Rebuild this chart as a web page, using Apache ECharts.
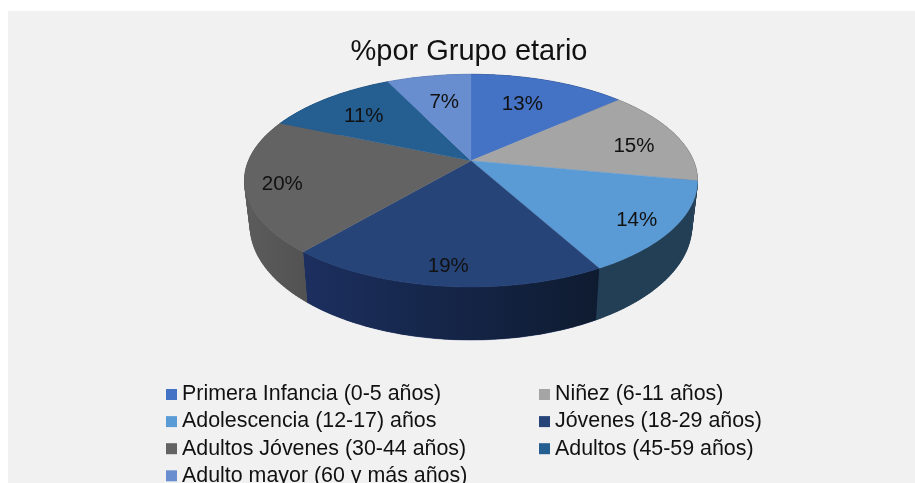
<!DOCTYPE html>
<html><head><meta charset="utf-8">
<style>html,body{margin:0;padding:0;background:#fff;overflow:hidden}#c{width:915px;height:483px}</style>
<script src="https://cdn.jsdelivr.net/npm/echarts@6/dist/echarts.min.js"></script>
</head><body><div id="c"></div>
<script>
const categories = ['Primera Infancia (0-5 años)','Niñez (6-11 años)','Adolescencia (12-17) años','Jóvenes (18-29 años)','Adultos Jóvenes (30-44 años)','Adultos (45-59 años)','Adulto mayor (60 y más años)'];
const values = [13.4,14.6,14.0,19.2,20.2,11.4,7.2];
const colors = ['#4472c4','#a5a5a5','#5b9bd5','#264478','#636363','#255e91','#698ed0'];
const sideLeft = ['#2a4475','#6a6a6a','#233f56','#1c2f5f','#5c5c5c','#1b466c','#4d699b'];
const sideRight = ['#2a4475','#6a6a6a','#233f56','#0e1b30','#525252','#1b466c','#4d699b'];
const labelRadius = [0.68,0.77,0.84,0.855,0.84,0.72,0.67];
const labelShift = [[-4,1],[4,6],[-1,4],[0,2],[0,3],[-1,2],[3,1]];
const titleText = '%por Grupo etario';

const total = values.reduce((a,b)=>a+b,0);
const K = 0.1876;
const topFace = {cx:471, cy:160.7, a:222.5, b:102.6};
const baseFace = {cx:471, cy:204.6, a:216.9, b:110};
function project(face, angleDeg, r){
  const t = angleDeg*Math.PI/180, u = r*Math.sin(t), v = -r*Math.cos(t), w = 1-K*v;
  return [face.cx+face.a*u/w, face.cy+face.b*v/w];
}
function arc(face, s, e){
  const n = Math.max(2, Math.ceil(Math.abs(e-s))), pts = [];
  for(let i=0;i<=n;i++) pts.push(project(face, s+(e-s)*i/n, 1));
  return pts;
}
function startOf(i){ return values.slice(0,i).reduce((a,b)=>a+b,0)/total*360; }

function makeSeries(i){
  return {
    type:'custom', name:categories[i], coordinateSystem:'none', silent:true,
    itemStyle:{color:colors[i]},
    data:[[values[i]]],
    renderItem:function(params, api){
      const s = startOf(i), e = s + api.value(0)/total*360;
      const topArc = arc(topFace, s, e), baseArc = arc(baseFace, s, e);
      const side = topArc.concat(baseArc.slice().reverse());
      const mid = (s+e)/2, lp = project(topFace, mid, labelRadius[i]);
      const fillers = [];
      for(let j=0;j<topArc.length-1;j++){
        fillers.push({type:'polygon', z2:0, shape:{points:[topArc[j],topArc[j+1],baseArc[j+1],baseArc[j]]},
          style:{fill:sideLeft[i], stroke:sideLeft[i], lineWidth:0.5}});
      }
      return {type:'group', children:fillers.concat([
        {type:'polygon', z2:1, shape:{points:side}, style:{
          fill:{type:'linear',x:0,y:0,x2:1,y2:0,colorStops:[{offset:0,color:sideLeft[i]},{offset:1,color:sideRight[i]}]}
        }},
        {type:'polygon', z2:2, shape:{points:[[topFace.cx,topFace.cy]].concat(topArc)},
          style:{fill:colors[i], stroke:colors[i], lineWidth:0.4}},
        {type:'text', z2:3, style:{x:lp[0]+labelShift[i][0], y:lp[1]+labelShift[i][1], text:Math.round(api.value(0))+'%', fill:'#111',
          font:'20.5px "Liberation Sans", Arial, sans-serif', align:'center', verticalAlign:'middle'}}
      ])};
    }
  };
}
const legendBase = {orient:'vertical', icon:'rect', itemWidth:11, itemHeight:11, itemGap:6.1, selectedMode:false, height:200, padding:0,
  textStyle:{fontFamily:'"Liberation Sans", Arial, sans-serif', fontSize:21.4, lineHeight:21, color:'#111'}};
const chart = echarts.init(document.getElementById('c'), null, {renderer:'canvas'});
chart.setOption({
  backgroundColor:'#ffffff', animation:false,
  graphic:[{type:'rect', z:-10, silent:true, shape:{x:8,y:11,width:907,height:472}, style:{fill:'#f1f1f1'}}],
  title:{text:titleText, left:469, top:37, textAlign:'center', padding:0,
    textStyle:{fontFamily:'"Liberation Sans", Arial, sans-serif', fontSize:29, fontWeight:'normal', color:'#111'}},
  legend:[
    Object.assign({}, legendBase, {left:166, top:384, data:[categories[0],categories[2],categories[4],categories[6]]}),
    Object.assign({}, legendBase, {left:539, top:384, data:[categories[1],categories[3],categories[5]]})
  ],
  series:categories.map((_,i)=>makeSeries(i))
});
</script></body></html>
